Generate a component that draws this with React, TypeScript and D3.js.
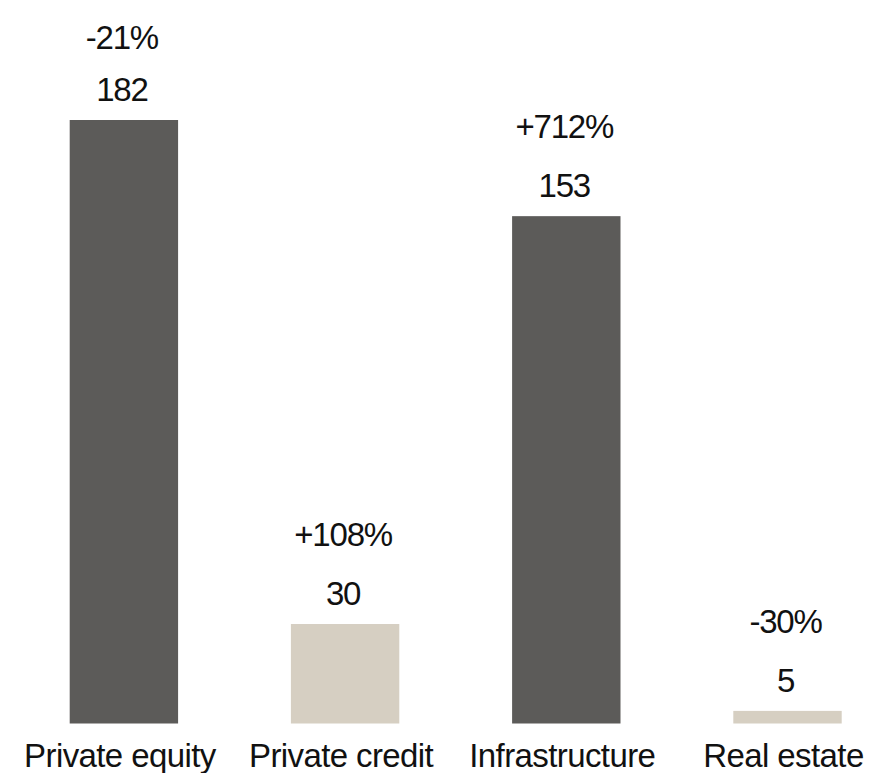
import React from "react";
import * as d3 from "d3";

const categories = ["Private equity", "Private credit", "Infrastructure", "Real estate"];
const barValues = [182, 30, 153, 3.8];
const valueLabels = ["182", "30", "153", "5"];
const changeLabels = ["-21%", "+108%", "+712%", "-30%"];
const barKinds = ["dark", "light", "dark", "light"];

const W = 872;
const H = 773;
const FONT = "'Liberation Sans', Arial, Helvetica, sans-serif";

export default function App() {
  const x = d3
    .scaleBand<string>()
    .domain(categories)
    .range([69.7, 841.7])
    .paddingInner(0.51)
    .paddingOuter(0);
  const y = d3.scaleLinear().domain([0, 182]).range([723.5, 120]);
  const color = d3
    .scaleOrdinal<string, string>()
    .domain(["dark", "light"])
    .range(["#5c5b59", "#d6cfc2"]);

  return (
    <svg
      width={W}
      height={H}
      style={{ position: "absolute", left: 0, top: 0, display: "block" }}
      fontFamily={FONT}
    >
      <rect x={0} y={0} width={W} height={H} fill="#ffffff" />
      {categories.map((c, i) => {
        const bx = x(c)!;
        const bw = x.bandwidth();
        const top = y(barValues[i]);
        const cx = bx + bw / 2;
        const valBase = top - 19;
        const pctBase = Math.max(49, valBase - 59);
        return (
          <g key={c}>
            <rect x={bx} y={top} width={bw} height={y(0) - top} fill={color(barKinds[i])} />
            <text x={cx - 2} y={valBase} textAnchor="middle" fontSize={33} fill="#111" letterSpacing={-1.2}>
              {valueLabels[i]}
            </text>
            <text x={cx - 2} y={pctBase} textAnchor="middle" fontSize={33} fill="#111" letterSpacing={-1.2}>
              {changeLabels[i]}
            </text>
            <text x={cx - 4} y={767} textAnchor="middle" fontSize={33} fill="#111" letterSpacing={-0.6}>
              {c}
            </text>
          </g>
        );
      })}
    </svg>
  );
}
